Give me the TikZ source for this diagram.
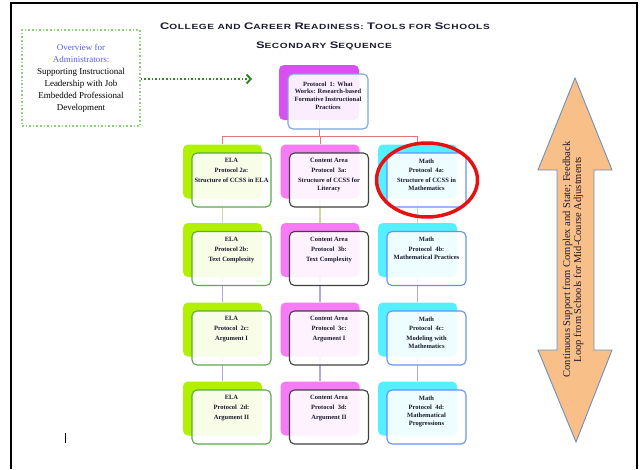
\documentclass[tikz,border=0pt]{standalone}
\usepackage{fontspec}
\setmainfont{Liberation Serif}
\setsansfont{Liberation Sans}
\newfontfamily\titlefont[FakeStretch=1.35,LetterSpace=8]{Liberation Sans}
\usetikzlibrary{arrows.meta,calc,shapes.geometric}
\definecolor{elaback}{HTML}{B0F000}
\definecolor{conback}{HTML}{F57CF5}
\definecolor{mathback}{HTML}{55F0FF}
\definecolor{topback}{HTML}{D850F0}
\definecolor{elaline}{HTML}{5AAA4A}
\definecolor{conline}{HTML}{404040}
\definecolor{mathline}{HTML}{6690FF}
\definecolor{topline}{HTML}{7AA6DC}
\definecolor{txtcol}{HTML}{1A1A30}
\definecolor{redcon}{HTML}{E07878}
\definecolor{greencon}{HTML}{C8D99C}
\definecolor{purplecon}{HTML}{B9A6D8}
\definecolor{dotgreen}{HTML}{8FD07A}
\definecolor{darkgreen}{HTML}{2F8A22}
\definecolor{ovblue}{HTML}{5B5BF5}
\definecolor{peach}{HTML}{F8BF88}
\definecolor{arrowedge}{HTML}{6F8FBF}
\definecolor{hlred}{HTML}{E81010}
\pgfdeclarelayer{bg}
\pgfsetlayers{bg,main}
\tikzset{
  backbox/.style={rounded corners=5pt, minimum width=79pt, minimum height=54pt, inner sep=0pt},
  frontbox/.style={draw, line width=1.1pt, rounded corners=5pt, fill=white, fill opacity=0.9,
    minimum width=79pt, minimum height=54pt, inner sep=0pt},
  boxtxt/.style={font=\fontsize{6.5}{7.8}\selectfont\bfseries, align=center, text=txtcol,
    anchor=north, inner sep=0pt},
  redwire/.style={draw=redcon, line width=1pt},
  greenwire/.style={draw=greencon, line width=1.2pt},
  purplewire/.style={draw=purplecon, line width=1.2pt},
}
\newcommand\protobox[6]{%
  \node[backbox, fill=#4] (#1b) at (#2,#3) {};
  \node[frontbox, draw=#5] (#1f) at ($(#1b.center)+(9,8.5)$) {};
  \node[boxtxt] (#1t) at ($(#1f.north)+(0,6)$) {#6};
}
\newcommand\tcapx[1]{{\fontsize{9.5}{10}\selectfont #1}}
\begin{document}
\begin{tikzpicture}[x=1pt,y=-1pt]
\useasboundingbox (0,0) rectangle (640,469);
% frame
\draw[line width=2.5pt] (11,469) -- (11,3) -- (637,3) -- (637,469);
% titles
\node[font=\titlefont\bfseries\fontsize{7.5}{8}\selectfont, text=txtcol] (title) at (325,26)
  {\tcapx{C}OLLEGE AND \tcapx{C}AREER \tcapx{R}EADINESS: \tcapx{T}OOLS FOR \tcapx{S}CHOOLS};
\node[font=\titlefont\bfseries\fontsize{7.5}{8}\selectfont, text=txtcol] (subtitle) at (324,46)
  {\tcapx{S}ECONDARY \tcapx{S}EQUENCE};
% overview box
\node[draw=dotgreen, dotted, line width=1.6pt, minimum width=118pt, minimum height=96pt,
  align=center, font=\fontsize{9}{12}\selectfont, inner sep=0pt] (ov) at (81,78)
  {{\color{ovblue}Overview for}\\{\color{ovblue}Administrators:}\\Supporting Instructional\\Leadership with Job\\Embedded Professional\\Development};
\coordinate (ovtip) at (252,79);
\draw[darkgreen, dotted, line width=1.6pt, -{Straight Barb[length=4pt,width=9pt,line width=2pt]}]
  (ov.east |- ovtip) -- (ovtip);
% top box
\node[backbox, fill=topback, minimum width=80pt, minimum height=55pt] (tb) at (319,92.5) {};
\node[frontbox, draw=topline, minimum width=80pt, minimum height=55pt] (tf) at (328,101.5) {};
\node[boxtxt] (tt) at ($(tf.north)+(0,8)$) {Protocol\ \ 1: What\\Works: Research-based\\Formative Instructional\\Practices};
% protocol boxes
\protobox{e1}{222.5}{171.5}{elaback}{elaline}{ELA\\[2pt]Protocol 2a:\\[2pt]Structure of CCSS in ELA}
\protobox{c1}{320}{171.5}{conback}{conline}{Content Area\\[2pt]Protocol\ \ 3a:\\[2pt]Structure of CCSS for\\Literacy}
\protobox{m1}{417.5}{171.5}{mathback}{mathline}{Math\\[2pt]Protocol\ \ 4a:\\[2pt]Structure of CCSS in\\Mathematics}
\protobox{e2}{222.5}{250}{elaback}{elaline}{ELA\\[2pt]Protocol 2b:\\[2pt]Text Complexity}
\protobox{c2}{320}{250}{conback}{conline}{Content Area\\[2pt]Protocol\ \ 3b:\\[2pt]Text Complexity}
\protobox{m2}{417.5}{250}{mathback}{mathline}{Math\\[2pt]Protocol\ \ 4b:\\Mathematical Practices}
\protobox{e3}{222.5}{329.5}{elaback}{elaline}{ELA\\[2pt]Protocol\ \ 2c:\\[2pt]Argument I}
\protobox{c3}{320}{329.5}{conback}{conline}{Content Area\\[2pt]Protocol\ \ 3c:\\[2pt]Argument I}
\protobox{m3}{417.5}{329.5}{mathback}{mathline}{Math\\[2pt]Protocol\ \ 4c:\\[2pt]Modeling with\\Mathematics}
\protobox{e4}{222.5}{408.5}{elaback}{elaline}{ELA\\[2pt]Protocol\ \ 2d:\\[2pt]Argument II}
\protobox{c4}{320}{408.5}{conback}{conline}{Content Area\\[2pt]Protocol\ \ 3d:\\[2pt]Argument II}
\protobox{m4}{417.5}{408.5}{mathback}{mathline}{Math\\[2pt]Protocol\ \ 4d:\\Mathematical\\Progressions}
% connectors
\begin{pgfonlayer}{bg}
  \coordinate (hub) at ($(tb.south)+(0,16)$);
  \draw[redwire] (tb.south) -- (hub);
  \draw[redwire] (hub) -| (e1b.north);
  \draw[redwire] (hub) -| (c1b.north);
  \draw[redwire] (hub) -| (m1b.north);
  \draw[greenwire] (e1b) -- (e2b);
  \draw[greenwire] (c1b) -- (c2b);
  \draw[greenwire] (m1b) -- (m2b);
  \draw[purplewire] (e2b) -- (e3b);
  \draw[purplewire] (c2b) -- (c3b);
  \draw[purplewire] (m2b) -- (m3b);
  \draw[purplewire] (e3b) -- (e4b);
  \draw[purplewire] (c3b) -- (c4b);
  \draw[purplewire] (m3b) -- (m4b);
\end{pgfonlayer}
% highlight ellipse
\node[ellipse, draw=hlred, line width=3.5pt, minimum width=101pt, minimum height=74pt] (hl) at (427,180) {};
% double arrow
\draw[fill=peach, draw=arrowedge, line width=0.9pt, line join=miter]
  (575,78) -- (612,170) -- (594,170) -- (594,350) -- (612,350) -- (576,442)
  -- (538,350) -- (557,350) -- (557,170) -- (538,170) -- cycle;
\node[rotate=90, align=center, font=\fontsize{10.5}{11}\selectfont, text=txtcol, inner sep=0pt] (fb) at (573,259.5)
  {Continuous Support from Complex and State; Feedback\\Loop from Schools for Mid-Course Adjustments};
% cursor mark
\draw[line width=0.8pt] (65,433) -- (65,443);
\end{tikzpicture}
\end{document}
